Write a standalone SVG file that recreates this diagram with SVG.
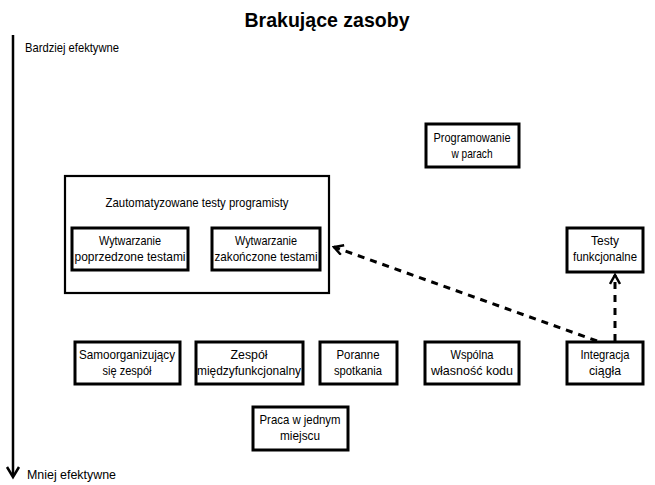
<svg xmlns="http://www.w3.org/2000/svg" width="655" height="485" viewBox="0 0 655 485">
<defs>
<style>
text{font-family:"Liberation Sans",Arial,sans-serif;font-size:13px;fill:#000;text-anchor:middle}
.box{fill:#fff;stroke:#000;stroke-width:3}
.big{fill:#fff;stroke:#000;stroke-width:2.2}
.dash{fill:none;stroke:#000;stroke-width:3;stroke-dasharray:7,6}
.lbl{text-anchor:start}
</style>
<marker id="open" viewBox="0 0 12 12" refX="10" refY="6" markerWidth="12" markerHeight="12" markerUnits="userSpaceOnUse" orient="auto">
<path d="M1,1 L10,6 L1,11" fill="none" stroke="#000" stroke-width="2.5"/>
</marker>
</defs>
<rect width="655" height="485" fill="#fff"/>
<text x="327" y="27" style="font-size:21px;font-weight:bold" textLength="165" lengthAdjust="spacingAndGlyphs">Brakujące zasoby</text>
<g id="axis">
<line x1="13" y1="35" x2="13" y2="476" stroke="#000" stroke-width="2.5"/>
<path d="M7,467 L13,477 L19,467" fill="none" stroke="#000" stroke-width="2.5"/>
<text class="lbl" x="25" y="52" textLength="94" lengthAdjust="spacingAndGlyphs">Bardziej efektywne</text>
<text class="lbl" x="27" y="479" textLength="89" lengthAdjust="spacingAndGlyphs">Mniej efektywne</text>
</g>
<g id="prog-pary"><rect class="box" x="426" y="124" width="93" height="43"/><text x="472" y="142" textLength="77" lengthAdjust="spacingAndGlyphs">Programowanie</text><text x="472" y="158" textLength="41" lengthAdjust="spacingAndGlyphs">w parach</text></g>
<g id="auto-testy"><rect class="big" x="65" y="176" width="264" height="117"/><text x="197" y="207" textLength="183" lengthAdjust="spacingAndGlyphs">Zautomatyzowane testy programisty</text></g>
<g id="tdd"><rect class="box" x="72" y="228" width="116" height="42"/><text x="130" y="245" textLength="62" lengthAdjust="spacingAndGlyphs">Wytwarzanie</text><text x="130" y="261" textLength="111" lengthAdjust="spacingAndGlyphs">poprzedzone testami</text></g>
<g id="test-last"><rect class="box" x="212" y="228" width="108" height="42"/><text x="266" y="245" textLength="62" lengthAdjust="spacingAndGlyphs">Wytwarzanie</text><text x="266" y="261" textLength="103" lengthAdjust="spacingAndGlyphs">zakończone testami</text></g>
<g id="testy-funk"><rect class="box" x="567" y="228" width="76" height="44"/><text x="605" y="245" textLength="28" lengthAdjust="spacingAndGlyphs">Testy</text><text x="605" y="261" textLength="64" lengthAdjust="spacingAndGlyphs">funkcjonalne</text></g>
<g id="samoorg"><rect class="box" x="75" y="342" width="105" height="42"/><text x="127" y="359" textLength="96" lengthAdjust="spacingAndGlyphs">Samoorganizujący</text><text x="127" y="375" textLength="49" lengthAdjust="spacingAndGlyphs">się zespół</text></g>
<g id="zespol"><rect class="box" x="196" y="342" width="107" height="42"/><text x="249" y="359" textLength="37" lengthAdjust="spacingAndGlyphs">Zespół</text><text x="249" y="375" textLength="104" lengthAdjust="spacingAndGlyphs">międzyfunkcjonalny</text></g>
<g id="poranne"><rect class="box" x="320" y="342" width="77" height="42"/><text x="358" y="359" textLength="43" lengthAdjust="spacingAndGlyphs">Poranne</text><text x="358" y="375" textLength="48" lengthAdjust="spacingAndGlyphs">spotkania</text></g>
<g id="wspolna"><rect class="box" x="425" y="342" width="94" height="42"/><text x="472" y="359" textLength="43" lengthAdjust="spacingAndGlyphs">Wspólna</text><text x="472" y="375" textLength="82" lengthAdjust="spacingAndGlyphs">własność kodu</text></g>
<g id="integracja"><rect class="box" x="567" y="342" width="76" height="42"/><text x="605" y="359" textLength="49" lengthAdjust="spacingAndGlyphs">Integracja</text><text x="605" y="375" textLength="32" lengthAdjust="spacingAndGlyphs">ciągła</text></g>
<g id="praca"><rect class="box" x="253" y="407" width="95" height="43"/><text x="300" y="424" textLength="81" lengthAdjust="spacingAndGlyphs">Praca w jednym</text><text x="300" y="440" textLength="40" lengthAdjust="spacingAndGlyphs">miejscu</text></g>
<g id="connectors">
<line class="dash" x1="597" y1="341" x2="334" y2="247" marker-end="url(#open)"/>
<line class="dash" x1="615" y1="341" x2="615" y2="275" marker-end="url(#open)"/>
</g>
</svg>
